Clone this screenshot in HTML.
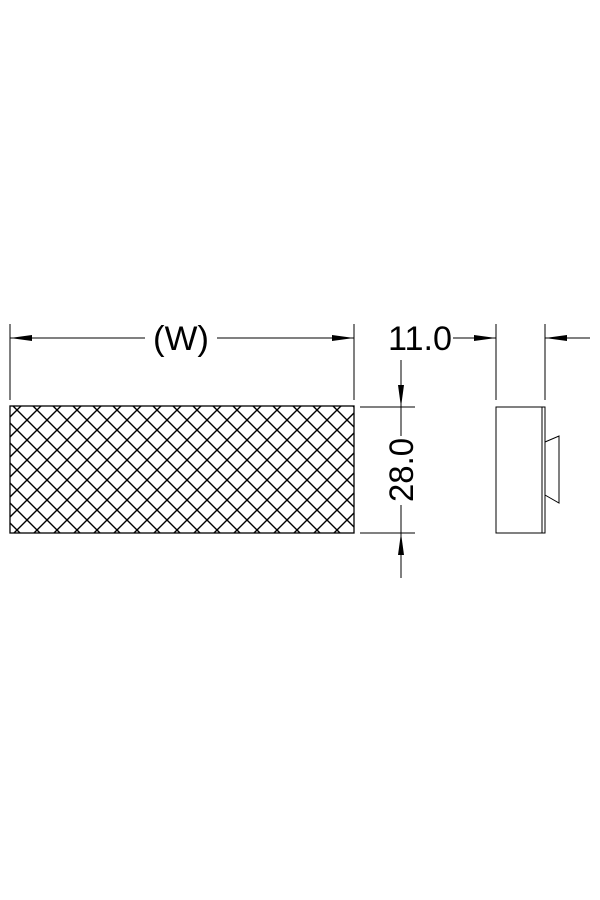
<!DOCTYPE html>
<html><head><style>body{margin:0;background:#fff}svg{display:block}</style></head>
<body>
<svg width="600" height="900" xmlns="http://www.w3.org/2000/svg">
<defs>
<pattern id="h" width="20" height="20" patternUnits="userSpaceOnUse" x="7" y="400">
<path d="M0 0L20 20M20 0L0 20" stroke="#000" stroke-width="1.4"/>
</pattern>
</defs>
<g stroke="#000" stroke-width="1" fill="none">
<rect x="10" y="406" width="344" height="127" fill="url(#h)" stroke-width="1.3"/>
<line x1="10" y1="324" x2="10" y2="400"/>
<line x1="354" y1="324" x2="354" y2="400"/>
<line x1="10" y1="338" x2="145" y2="338"/>
<line x1="217" y1="338" x2="354" y2="338"/>
<line x1="360" y1="407" x2="415" y2="407"/>
<line x1="360" y1="533" x2="415" y2="533"/>
<line x1="401" y1="360" x2="401" y2="436"/>
<line x1="401" y1="505" x2="401" y2="578"/>
<line x1="496" y1="324" x2="496" y2="400"/>
<line x1="545" y1="324" x2="545" y2="400"/>
<line x1="453" y1="338" x2="496" y2="338"/>
<line x1="545" y1="338" x2="590" y2="338"/>
<rect x="496" y="407" width="49" height="126"/>
<line x1="542" y1="407" x2="542" y2="533"/>
<polyline points="545,442 559,436 559,503 545,495"/>
</g>
<g fill="#000">
<polygon points="10,338 32,335 32,341"/>
<polygon points="354,338 332,335 332,341"/>
<polygon points="496,338 474,335 474,341"/>
<polygon points="545,338 567,335 567,341"/>
<polygon points="401,407 398,385 404,385"/>
<polygon points="401,533 398,555 404,555"/>
</g>
<g font-family="Liberation Sans, DejaVu Sans, sans-serif" font-size="34" fill="#000">
<text x="181" y="350" text-anchor="middle" textLength="56" lengthAdjust="spacingAndGlyphs">(W)</text>
<text x="420" y="350" text-anchor="middle" textLength="64" lengthAdjust="spacingAndGlyphs">11.0</text>
<text transform="translate(413,470) rotate(-90)" text-anchor="middle" textLength="64" lengthAdjust="spacingAndGlyphs">28.0</text>
</g>
</svg>
</body></html>
